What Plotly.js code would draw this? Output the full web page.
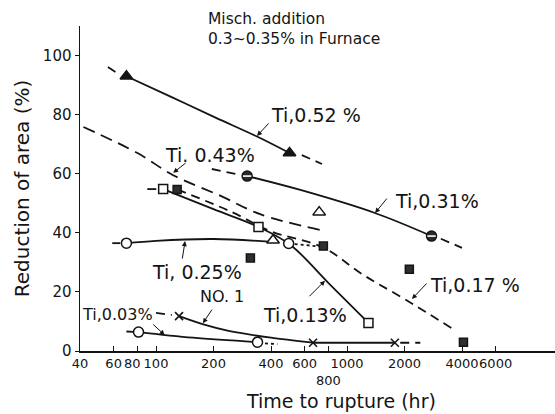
<!DOCTYPE html>
<html>
<head>
<meta charset="utf-8">
<script src="https://cdn.plot.ly/plotly-3.0.1.min.js"></script>
<style>
  html, body { margin: 0; padding: 0; background: #fff; }
  #chart { width: 555px; height: 414px; }
</style>
</head>
<body>
<div id="chart"></div>
<script>
// Creep rupture ductility: reduction of area vs. time to rupture (hr)
// Measured points for each Ti content
const ti052X = [70, 500];                      const ti052Y = [93, 67];
const ti043X = [38, 410, 715];                 const ti043Y = [80, 37.5, 47];
const ti031X = [300, 2770];                    const ti031Y = [59.2, 38.9];
const ti025X = [70, 495];                      const ti025Y = [36.5, 36.4];
const ti017X = [129, 312, 752, 2120, 4070];    const ti017Y = [54.7, 31.5, 35.5, 27.7, 3.0];
const ti013X = [109, 344, 1295];               const ti013Y = [54.8, 42.0, 9.5];
const ti003X = [81, 340];                      const ti003Y = [6.4, 3.0];
const no1X = [132, 664, 1780];                 const no1Y = [11.8, 2.8, 2.8];

// Faired curves through the points (solid part), plus short extensions
const ti052CurveX = [70, 120, 205, 340, 500];  const ti052CurveY = [93, 86, 79, 72.5, 67];
const ti052LeadX = [56, 65];                   const ti052LeadY = [96.1, 93.4];
const ti052TailX = [580, 740];                 const ti052TailY = [66.3, 63.3];

const ti043CurveX = [41.7, 80, 123, 218, 351, 726];
const ti043CurveY = [75.8, 67, 59.5, 52.5, 46.3, 40.9];

const ti031CurveX = [300, 570, 1400, 2770];    const ti031CurveY = [59.2, 54.5, 46.7, 38.9];
const ti031LeadX = [196, 268];                 const ti031LeadY = [61.6, 59.8];
const ti031TailX = [3100, 4000];               const ti031TailY = [38, 34.9];

const ti025CurveX = [70, 100, 200, 390];       const ti025CurveY = [36.5, 37.3, 37.9, 37.0];
const ti025LeadX = [59, 65];                   const ti025LeadY = [36.5, 36.5];
const ti025TailX = [495, 740];                 const ti025TailY = [36.4, 35.3];

const ti017CurveX = [129, 250, 400, 752, 1200, 2000, 3540];
const ti017CurveY = [54.7, 47, 40.5, 35, 26, 17.6, 7.7];

const ti013CurveX = [109, 200, 344, 506, 800, 1295];
const ti013CurveY = [54.8, 48.0, 42.0, 35.9, 23.0, 9.5];
const ti013LeadX = [90, 101];                  const ti013LeadY = [54.8, 54.8];

const ti003CurveX = [81, 156, 340];            const ti003CurveY = [6.4, 4.5, 3.0];
const ti003LeadX = [70, 76];                   const ti003LeadY = [6.6, 6.5];
const ti003TailX = [372, 432];                 const ti003TailY = [2.6, 2.3];

const no1CurveX = [132, 177, 240, 400, 664];   const no1CurveY = [11.8, 9.0, 6.8, 4.5, 2.8];
const no1FlatX = [664, 1780];                  const no1FlatY = [2.8, 2.8];
const no1LeadX = [100, 121];                   const no1LeadY = [12.9, 12.2];
const no1TailX = [1900, 2420];                 const no1TailY = [2.8, 2.8];

// Axis ticks (80 and 800 are lettered separately, set off from their neighbours)
const xTickVals = [40, 60, 80, 100, 200, 400, 600, 800, 1000, 2000, 4000, 6000];
const xTickText = ['40', '60', '', '100', '200', '400', '600', '', '1000', '2000', '4000', '6000'];
const yTickVals = [0, 20, 40, 60, 80, 100];

// Curve labels: text, label position (hr, %), arrow head (hr, %), arrow tail offset (px)
const labelText = ['Ti,0.52 %', 'Ti. 0.43%', 'Ti,0.31%', 'Ti, 0.25%', 'Ti,0.13%', 'Ti,0.17 %', 'Ti,0.03%', 'NO. 1'];
const labelX    = [689, 192, 2958, 164, 603, 4677, 63.2, 221];
const labelY    = [79.9, 66.3, 50.8, 26.7, 12.2, 22.3, 12.2, 18.3];
const labelSize = [19, 19, 19, 19, 19, 19, 16, 16];
const arrowX    = [338, 123, 1403, 142, 767, 2188, 111, 176];
const arrowY    = [72.8, 60.3, 46.7, 37.2, 23.8, 17.6, 5.4, 9.4];
const arrowAX   = [13, 14, 13, -3, -17, 16, -13, 10];
const arrowAY   = [-14, -11, -16, 19, 17, -17, -12, -15];

const INK = '#141414';

function curve(x, y, dash, shape, smooth) {
  return {
    type: 'scatter', mode: 'lines', x: x, y: y, hoverinfo: 'skip',
    line: { color: INK, width: 1.8, dash: dash || 'solid', shape: shape || 'spline',
            smoothing: smooth === undefined ? 1 : smooth },
    cliponaxis: false
  };
}
function points(x, y, symbol, fill, size) {
  return {
    type: 'scatter', mode: 'markers', x: x, y: y, cliponaxis: false,
    marker: { symbol: symbol, size: size, color: fill, line: { color: INK, width: 1.5 } }
  };
}

const longDash = '12px,7px';
const midDash = '9px,6px';
const dotted = '3px,3px';

const traces = [
  curve(ti052CurveX, ti052CurveY),
  curve(ti052LeadX, ti052LeadY, midDash, 'linear'),
  curve(ti052TailX, ti052TailY, midDash, 'linear'),
  curve(ti043CurveX, ti043CurveY, longDash),
  curve(ti031CurveX, ti031CurveY),
  curve(ti031LeadX, ti031LeadY, midDash, 'linear'),
  curve(ti031TailX, ti031TailY, midDash, 'linear'),
  curve(ti025CurveX, ti025CurveY),
  curve(ti025LeadX, ti025LeadY, midDash, 'linear'),
  curve(ti025TailX, ti025TailY, dotted, 'linear'),
  curve(ti017CurveX, ti017CurveY, midDash),
  curve(ti013CurveX, ti013CurveY),
  curve(ti013LeadX, ti013LeadY, midDash, 'linear'),
  curve(ti003CurveX, ti003CurveY),
  curve(ti003LeadX, ti003LeadY, midDash, 'linear'),
  curve(ti003TailX, ti003TailY, dotted, 'linear'),
  curve(no1CurveX, no1CurveY, 'solid', 'spline', 0.8),
  curve(no1FlatX, no1FlatY, 'solid', 'linear'),
  curve(no1LeadX, no1LeadY, midDash, 'linear'),
  curve(no1TailX, no1TailY, midDash, 'linear'),

  points(ti052X, ti052Y, 'triangle-up', INK, 11),
  points(ti043X, ti043Y, 'triangle-up', '#fff', 11),
  points(ti031X, ti031Y, 'circle', '#2a2a2a', 10),
  { type: 'scatter', mode: 'markers', x: ti031X, y: ti031Y, cliponaxis: false,
    marker: { symbol: 'line-ew', size: 6, line: { color: '#fff', width: 1.6 } } },
  points(ti025X, ti025Y, 'circle', '#fff', 10),
  points(ti017X, ti017Y, 'square', '#2e2e2e', 8),
  points(ti013X, ti013Y, 'square', '#fff', 9),
  points(ti003X, ti003Y, 'circle', '#fff', 10),
  { type: 'scatter', mode: 'markers', x: no1X, y: no1Y, cliponaxis: false,
    marker: { symbol: 'x-thin', size: 8, line: { color: INK, width: 1.6 } } }
];

const annotations = [];
labelText.forEach((t, i) => {
  annotations.push({
    xref: 'x', yref: 'y', x: Math.log10(labelX[i]), y: labelY[i],
    text: t, showarrow: false, xanchor: 'center', yanchor: 'middle',
    font: { family: 'DejaVu Sans', size: labelSize[i], color: INK }
  });
  annotations.push({
    xref: 'x', yref: 'y', x: Math.log10(arrowX[i]), y: arrowY[i],
    ax: arrowAX[i], ay: arrowAY[i], text: '', showarrow: true,
    arrowhead: 2, arrowsize: 1, arrowwidth: 1, arrowcolor: INK, standoff: 0, startstandoff: 0
  });
});

// header note (two lines)
annotations.push({
  xref: 'paper', yref: 'paper', x: 0.265, y: 0.99, xanchor: 'left', yanchor: 'middle', align: 'left',
  text: 'Misch. addition<br>0.3~0.35% in Furnace', showarrow: false,
  font: { family: 'DejaVu Sans', size: 15.5, color: INK }
});
// "80" tick label, set just left of "100"
annotations.push({
  xref: 'paper', yref: 'paper', x: 0.1335, y: -0.037, xanchor: 'right', yanchor: 'middle',
  text: '80', showarrow: false,
  font: { family: 'DejaVu Sans', size: 13, color: INK }
});
// the 800 tick label sits a little lower than the rest
annotations.push({
  xref: 'x', yref: 'paper', x: Math.log10(800), y: -0.09, xanchor: 'center', yanchor: 'middle',
  text: '800', showarrow: false,
  font: { family: 'DejaVu Sans', size: 13, color: INK }
});
// x-axis title
annotations.push({
  xref: 'paper', yref: 'paper', x: 0.55, y: -0.155, xanchor: 'center', yanchor: 'middle',
  text: 'Time to rupture (hr)', showarrow: false,
  font: { family: 'DejaVu Sans', size: 19, color: INK }
});

const layout = {
  width: 555, height: 414,
  margin: { l: 80, r: 0, t: 26, b: 63 },
  paper_bgcolor: '#fff', plot_bgcolor: '#fff',
  showlegend: false,
  font: { family: 'DejaVu Sans', color: INK },
  xaxis: {
    type: 'log',
    range: [Math.log10(40), Math.log10(40) + 475 / 191],
    tickvals: xTickVals, ticktext: xTickText, tickangle: 0,
    ticks: 'inside', ticklen: 5, tickwidth: 1, tickcolor: INK,
    showline: true, linecolor: INK, linewidth: 1.5,
    showgrid: false, zeroline: false,
    tickfont: { family: 'DejaVu Sans', size: 13, color: INK }
  },
  yaxis: {
    range: [0, 110],
    tickvals: yTickVals,
    ticks: 'outside', ticklen: 4, tickwidth: 1, tickcolor: INK,
    showline: true, linecolor: INK, linewidth: 1.5,
    showgrid: false, zeroline: false,
    tickfont: { family: 'DejaVu Sans', size: 15, color: INK },
    title: { text: 'Reduction of area (%)', font: { family: 'DejaVu Sans', size: 20, color: INK }, standoff: 8 }
  },
  annotations: annotations
};

Plotly.newPlot('chart', traces, layout, { displayModeBar: false, staticPlot: true });
</script>
</body>
</html>
